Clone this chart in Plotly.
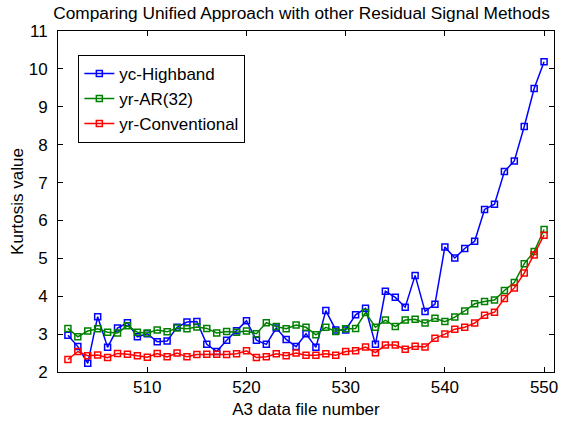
import plotly.graph_objects as go

# A3 data file numbers
file_number = list(range(502, 551))

# Kurtosis of the high-band signal
yc_highband = [
    2.97, 2.67, 2.23, 3.46, 2.65, 3.16, 3.30, 2.93, 3.01, 2.80,
    2.82, 3.18, 3.32, 3.33, 2.73, 2.54, 2.84, 3.09, 3.35, 2.84,
    2.73, 3.16, 2.86, 2.67, 3.01, 2.65, 3.62, 3.11, 3.11, 3.51,
    3.68, 2.73, 4.13, 3.97, 3.71, 4.55, 3.60, 3.79, 5.30, 5.01,
    5.26, 5.45, 6.29, 6.43, 7.29, 7.57, 8.48, 9.48, 10.19,
]

# Kurtosis of the AR(32) residual
yr_ar32 = [
    3.15, 2.93, 3.08, 3.14, 3.05, 3.03, 3.22, 3.05, 3.03, 3.11,
    3.06, 3.16, 3.14, 3.19, 3.15, 3.03, 3.07, 3.05, 3.08, 3.01,
    3.30, 3.20, 3.14, 3.24, 3.18, 2.98, 3.18, 3.07, 3.14, 3.15,
    3.57, 3.18, 3.37, 3.20, 3.37, 3.39, 3.29, 3.42, 3.33, 3.45,
    3.61, 3.80, 3.86, 3.90, 4.15, 4.36, 4.86, 5.18, 5.76,
]

# Kurtosis of the conventional residual
yr_conventional = [
    2.33, 2.54, 2.43, 2.45, 2.38, 2.49, 2.47, 2.43, 2.39, 2.49,
    2.40, 2.50, 2.40, 2.46, 2.47, 2.47, 2.46, 2.48, 2.56, 2.38,
    2.40, 2.48, 2.43, 2.50, 2.44, 2.44, 2.48, 2.44, 2.54, 2.56,
    2.66, 2.51, 2.71, 2.71, 2.60, 2.68, 2.66, 2.89, 3.00, 3.13,
    3.18, 3.29, 3.50, 3.58, 3.94, 4.22, 4.61, 5.09, 5.61,
]

series = [
    ("yc-Highband", yc_highband, "#0000FF"),
    ("yr-AR(32)", yr_ar32, "#008000"),
    ("yr-Conventional", yr_conventional, "#FF0000"),
]

FONT = "Liberation Sans, Arial, sans-serif"

fig = go.Figure()
for name, values, color in series:
    fig.add_trace(go.Scatter(
        x=file_number, y=values, name=name, mode="lines+markers",
        line=dict(color=color, width=1.5),
        marker=dict(symbol="square-open", size=6, color=color,
                    line=dict(color=color, width=1.5)),
    ))

axis_common = dict(
    showline=True, linecolor="black", linewidth=1, mirror="ticks",
    ticks="inside", ticklen=5, tickcolor="black", tickwidth=1,
    showgrid=False, zeroline=False,
    tickfont=dict(family=FONT, size=17, color="black"),
)

fig.update_layout(
    width=570, height=427,
    margin=dict(l=58, r=12, t=31, b=40),
    paper_bgcolor="white", plot_bgcolor="white",
    font=dict(family=FONT, size=17, color="black"),
    title=dict(text="Comparing Unified Approach with other Residual Signal Methods",
               x=0.529, xanchor="center", y=0.969, yanchor="middle", yref="container",
               font=dict(family=FONT, size=17.3, color="black")),
    xaxis=dict(range=[501, 551], tickvals=[510, 520, 530, 540, 550],
               title=dict(text="A3 data file number", standoff=6,
                          font=dict(family=FONT, size=17)),
               **axis_common),
    yaxis=dict(range=[2, 11], tickvals=list(range(2, 12)),
               ticklabelstandoff=6,
               title=dict(text="Kurtosis value", standoff=0,
                          font=dict(family=FONT, size=17)),
               **axis_common),
    legend=dict(x=0.041, xanchor="left", y=0.93, yanchor="top",
                bgcolor="white", bordercolor="black", borderwidth=1,
                font=dict(family=FONT, size=17, color="black"),
                tracegroupgap=0, itemwidth=30),
    showlegend=True,
)

fig.write_html("out.html")
